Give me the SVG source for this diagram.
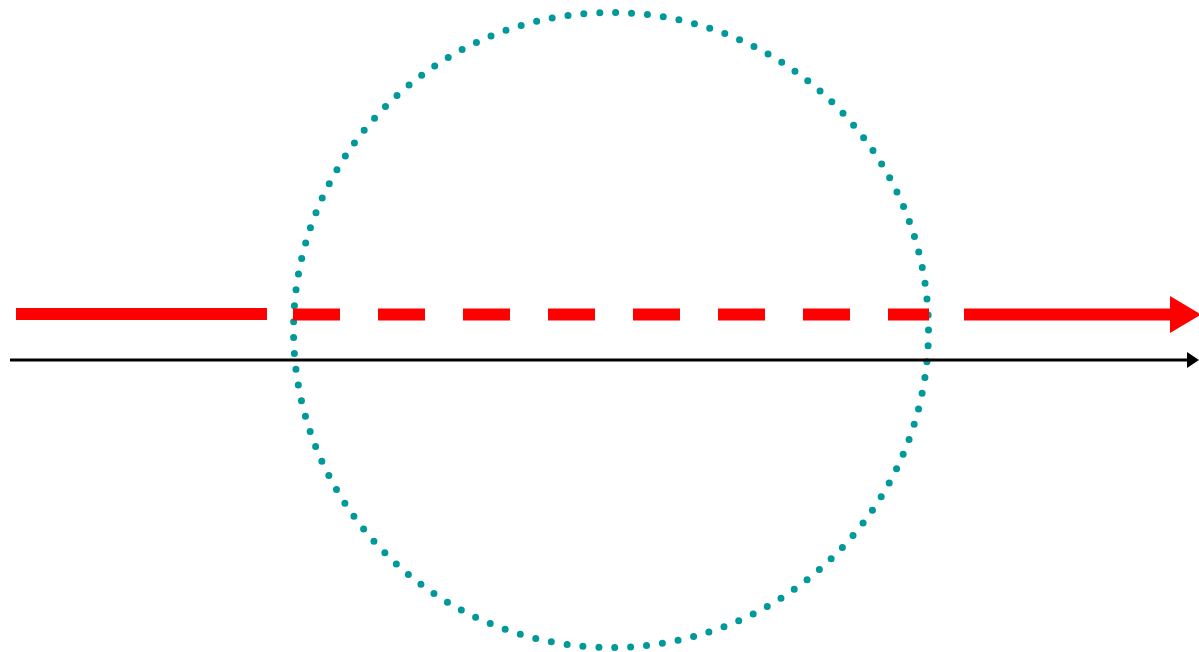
<svg xmlns="http://www.w3.org/2000/svg" width="1199" height="652" viewBox="0 0 1199 652">
<style>
.ring{fill:none;stroke:#009999;stroke-width:7;stroke-linecap:round;stroke-dasharray:0 15.96}
.red{fill:none;stroke:#ff0000;stroke-width:12}
.blk{fill:none;stroke:#000;stroke-width:3}
</style>
<defs>
<marker id="ab" markerUnits="userSpaceOnUse" viewBox="0 0 12 16" refX="2" refY="8" markerWidth="12" markerHeight="16" orient="auto"><path d="M0,0 L12,8 L0,16 Z" fill="#000"/></marker>
</defs>
<rect width="1199" height="652" fill="#fff"/>
<g id="circle">
<circle class="ring" cx="611" cy="330" r="317.5"/>
</g>
<g id="connectors">
<path class="red" d="M16,314 L267,314"/>
<path class="red" d="M293,314.5 L929,314.5" stroke-dasharray="47 38"/>
<path class="red" d="M964,314.5 L1172,314.5"/>
<path d="M1170,296 L1201,314.5 L1170,333 Z" fill="#ff0000"/>
<path class="blk" d="M10,360 L1189,360" marker-end="url(#ab)"/>
</g>
</svg>
